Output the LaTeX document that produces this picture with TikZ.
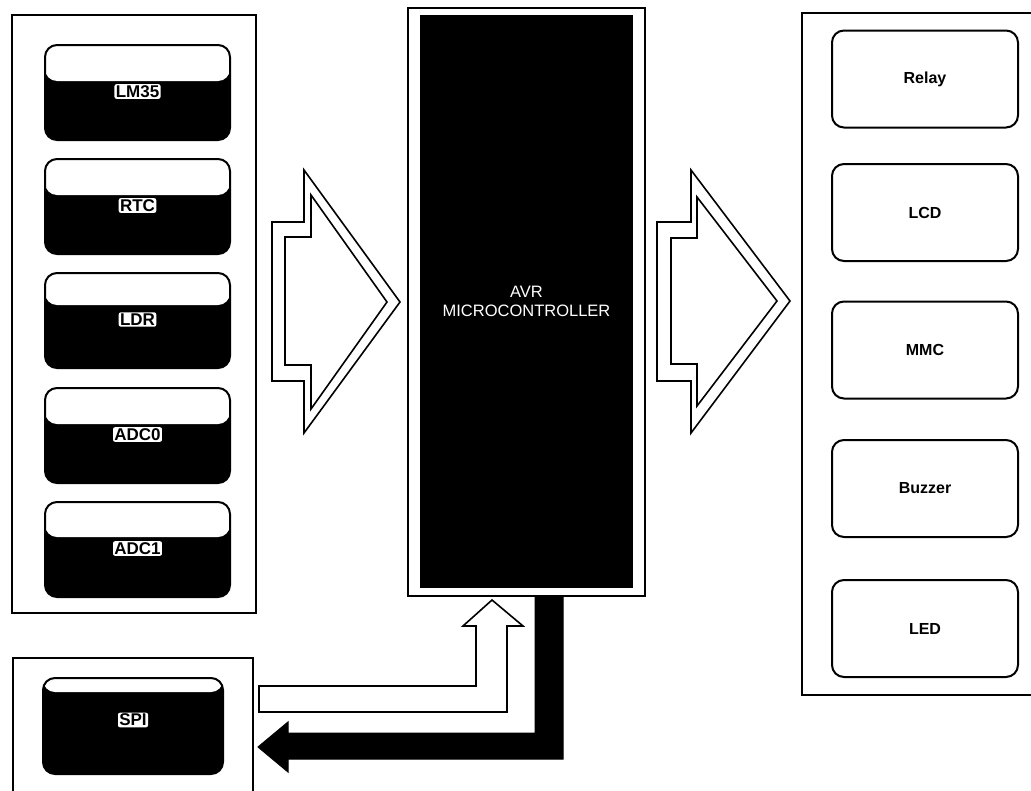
\documentclass[tikz,border=0pt]{standalone}
\usepackage{fontspec}
\setmainfont{Liberation Sans}
\begin{document}
\begin{tikzpicture}[x=1pt,y=-1pt,
  panel/.style={draw, line width=1.6pt},
  inbox/.style={draw, line width=2pt, rounded corners=12pt, fill=black,
    minimum width=185pt, minimum height=95pt, inner sep=0pt,
    path picture={\fill[white] ([yshift=2pt]path picture bounding box.north west)
      rectangle ([yshift=-#1]path picture bounding box.north east);}},
  inlab/.style={fill=white, rounded corners=2pt, inner sep=1.3pt, text=black,
    font=\fontsize{17}{19}\selectfont\bfseries},
  outbox/.style={draw, line width=2pt, rounded corners=12pt, fill=white,
    minimum width=186pt, minimum height=97pt, inner sep=0pt,
    font=\fontsize{16}{18}\selectfont\bfseries},
  hollow/.style={draw, line width=1.6pt, fill=white, line join=miter},
  solidarrow/.style={fill=black, draw=black, line width=1pt}
]
\useasboundingbox (0,0) rectangle (1031,790);

% panels
\draw[panel] (12,15) rectangle (256,613);
\draw[panel] (13,658) rectangle (253,800);
\draw[panel] (802,13) rectangle (1040,695);

% input boxes
\node[inbox=36pt] (lm)  at (137.5,92.5)  {};
\node[inbox=36pt] (rtc) at (137.5,206.5) {};
\node[inbox=32pt] (ldr) at (137.5,320.5) {};
\node[inbox=36pt] (adc0) at (137.5,435.5) {};
\node[inbox=35pt] (adc1) at (137.5,549.5) {};
\node[inlab] (lmL)   at ([yshift=1pt]lm.center)   {LM35};
\node[inlab] (rtcL)  at ([yshift=1pt]rtc.center)  {RTC};
\node[inlab] (ldrL)  at ([yshift=1pt]ldr.center)  {LDR};
\node[inlab] (adc0L) at ([yshift=1pt]adc0.center) {ADC0};
\node[inlab] (adc1L) at ([yshift=1pt]adc1.center) {ADC1};

% SPI box
\node[inbox=14pt, minimum width=180pt, minimum height=96pt] (spi) at (133,726) {};
\node[inlab] (spiL) at ([yshift=6pt]spi.center) {SPI};

% microcontroller
\node[draw, line width=1.6pt, fill=white, minimum width=237pt, minimum height=588pt,
  inner sep=0pt] (mcuframe) at (526.5,302) {};
\node[fill=black, text=white, minimum width=213pt, minimum height=573pt, inner sep=0pt,
  align=center, font=\fontsize{16.5}{19}\selectfont] (mcu) at (526.5,301.5)
  {AVR\\MICROCONTROLLER};

% output boxes
\node[outbox] (relay)  at (925,79)    {Relay};
\node[outbox] (lcd)    at (925,212.5) {LCD};
\node[outbox] (mmc)    at (925,350)   {MMC};
\node[outbox] (buzzer) at (925,488.5) {Buzzer};
\node[outbox] (led)    at (925,628.5) {LED};

% big hollow arrow: inputs -> MCU
\draw[hollow] (272,222) -- (304,222) -- (304,170) -- (400,302) -- (304,433)
  -- (304,381) -- (272,381) -- cycle;
\draw[hollow] (285,237) -- (311,237) -- (311,195) -- (387,302) -- (311,409)
  -- (311,365) -- (285,365) -- cycle;

% big hollow arrow: MCU -> outputs
\draw[hollow] (657,222) -- (691,222) -- (691,170) -- (790,301) -- (691,433)
  -- (691,381) -- (657,381) -- cycle;
\draw[hollow] (671,238) -- (697,238) -- (697,197) -- (777,301) -- (697,406)
  -- (697,364) -- (671,364) -- cycle;

% SPI -> MCU (hollow L arrow)
\draw[hollow] (259,686) -- (476,686) -- (476,626) -- (463,626) -- (492,600)
  -- (523,626) -- (507,626) -- (507,712) -- (259,712) -- cycle;

% MCU -> SPI (solid L arrow)
\draw[solidarrow] (563,596) -- (563,759) -- (288,759) -- (288,772) -- (258,747)
  -- (288,722) -- (288,733) -- (535,733) -- (535,596) -- cycle;
\end{tikzpicture}
\end{document}
